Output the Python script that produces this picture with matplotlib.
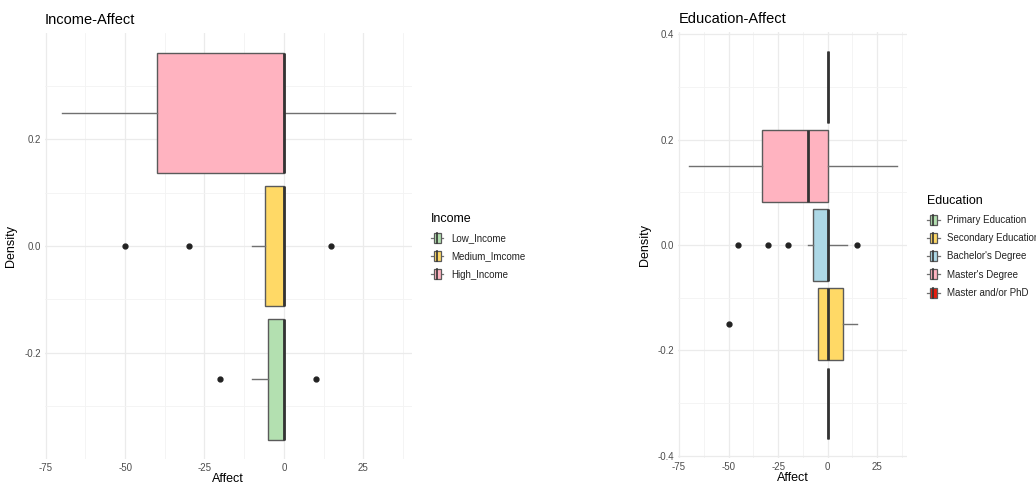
import matplotlib
matplotlib.use("Agg")
import matplotlib.pyplot as plt
from matplotlib.patches import Rectangle
from matplotlib.lines import Line2D
from matplotlib.legend_handler import HandlerBase
from matplotlib.ticker import MultipleLocator, FuncFormatter

plt.rcParams["font.family"] = ["Liberation Sans", "DejaVu Sans"]

# ---- Income panel: box summaries per group (horizontal boxes) ----
income_groups = ["Low_Income", "Medium_Imcome", "High_Income"]
income_colors = ["#B3E0B0", "#FFD966", "#FFB3C0"]
income_pos = [-0.25, 0.0, 0.25]
income_whislo = [-10, -10, -70]
income_q1 = [-5, -6, -40]
income_med = [0, 0, 0]
income_q3 = [0, 0, 0]
income_whishi = [0, 0, 35]
income_fliers = [[-20, 10], [-50, -30, 15], []]

# ---- Education panel ----
edu_groups = ["Primary Education", "Secondary Education", "Bachelor's Degree",
              "Master's Degree", "Master and/or PhD"]
edu_colors = ["#B3E0B0", "#FFD966", "#ADD8E6", "#FFB3C0", "#E81C0C"]
edu_pos = [-0.30, -0.15, 0.0, 0.15, 0.30]
edu_whislo = [0, -5, -10, -70, 0]
edu_q1 = [0, -5, -7.5, -33, 0]
edu_med = [0, 0, 0, -10, 0]
edu_q3 = [0, 7.5, 0, 0, 0]
edu_whishi = [0, 15, 10, 35, 0]
edu_fliers = [[], [-50], [-45, -30, -20, 15], [], []]

GRID = "#EBEBEB"
EDGE = "#5A5A5A"
WHISK = "#707070"


def stats(labels, lo, q1, med, q3, hi, fl):
    out = []
    for i in range(len(labels)):
        out.append(dict(label=labels[i], whislo=lo[i], q1=q1[i], med=med[i],
                        q3=q3[i], whishi=hi[i], fliers=fl[i]))
    return out


def style_axes(ax, ylim, xlim):
    ax.set_xlim(*xlim)
    ax.set_ylim(*ylim)
    ax.xaxis.set_major_locator(MultipleLocator(25))
    ax.xaxis.set_minor_locator(MultipleLocator(12.5))
    ax.yaxis.set_major_locator(MultipleLocator(0.2))
    ax.yaxis.set_minor_locator(MultipleLocator(0.1))
    ax.grid(True, which="major", color=GRID, linewidth=0.9, zorder=0)
    ax.grid(True, which="minor", color="#F3F3F3", linewidth=0.6, zorder=0)
    ax.set_axisbelow(True)
    for s in ax.spines.values():
        s.set_visible(False)
    ax.tick_params(which="both", length=0, labelsize=7, colors="#4D4D4D", pad=3)
    ax.yaxis.set_major_formatter(FuncFormatter(lambda v, p: f"{v:.1f}"))
    ax.xaxis.set_major_formatter(FuncFormatter(lambda v, p: f"{v:.0f}"))
    ax.set_xlabel("Affect", fontsize=9, labelpad=0)
    ax.set_ylabel("Density", fontsize=9, labelpad=5)


def draw_boxes(ax, st, pos, colors, width):
    bp = ax.bxp(st, positions=pos, widths=width, vert=False, patch_artist=True,
                showcaps=False, manage_ticks=False,
                boxprops=dict(edgecolor=EDGE, linewidth=1.0),
                medianprops=dict(color="#333333", linewidth=2.0),
                whiskerprops=dict(color=WHISK, linewidth=1.0),
                flierprops=dict(marker="o", markerfacecolor="#222222",
                                markeredgecolor="#222222", markersize=3.5))
    for patch, c in zip(bp["boxes"], colors):
        patch.set_facecolor(c)
        patch.set_zorder(2)


class BoxKey(HandlerBase):
    def create_artists(self, legend, orig_handle, xdescent, ydescent, width,
                       height, fontsize, trans):
        c = orig_handle.get_facecolor()
        cx = width / 2 - xdescent
        cy = height / 2 - ydescent
        bw = width * 0.55
        bh = height * 1.15
        line = Line2D([cx - width / 2, cx + width / 2], [cy, cy],
                      color=WHISK, linewidth=0.9, transform=trans)
        rect = Rectangle((cx - bw / 2, cy - bh / 2), bw, bh, facecolor=c,
                         edgecolor=EDGE, linewidth=0.9, transform=trans)
        med = Line2D([cx, cx], [cy - bh / 2, cy + bh / 2], color="#333333",
                     linewidth=1.2, transform=trans)
        return [line, rect, med]


def add_legend(fig, title, labels, colors, anchor):
    handles = [Rectangle((0, 0), 1, 1, facecolor=c) for c in colors]
    leg = fig.legend(handles, labels, title=title, loc="upper left",
                     bbox_to_anchor=anchor, frameon=False, fontsize=7,
                     title_fontsize=9, handler_map={Rectangle: BoxKey()},
                     handlelength=1.3, handleheight=1.0, handletextpad=0.8,
                     labelspacing=0.85, alignment="left", borderaxespad=0)
    for t in leg.get_texts():
        t.set_color("#222222")
    return leg


fig = plt.figure(figsize=(10.36, 4.84), dpi=100)

ax1 = fig.add_axes([0.0434, 0.0517, 0.3539, 0.8795])
draw_boxes(ax1, stats(income_groups, income_whislo, income_q1, income_med,
                      income_q3, income_whishi, income_fliers),
           income_pos, income_colors, 0.225)
style_axes(ax1, (-0.399, 0.399), (-75.25, 40.25))
ax1.set_title("Income-Affect", loc="left", fontsize=10.5, pad=7)
add_legend(fig, "Income", income_groups, income_colors, (0.412, 0.568))

ax2 = fig.add_axes([0.6549, 0.0545, 0.2210, 0.8785])
draw_boxes(ax2, stats(edu_groups, edu_whislo, edu_q1, edu_med, edu_q3,
                      edu_whishi, edu_fliers),
           edu_pos, edu_colors, 0.135)
style_axes(ax2, (-0.4035, 0.4035), (-75.25, 40.25))
ax2.set_title("Education-Affect", loc="left", fontsize=10.5, pad=7)
add_legend(fig, "Education", edu_groups, edu_colors, (0.891, 0.606))

fig.savefig("out.png", dpi=100)
